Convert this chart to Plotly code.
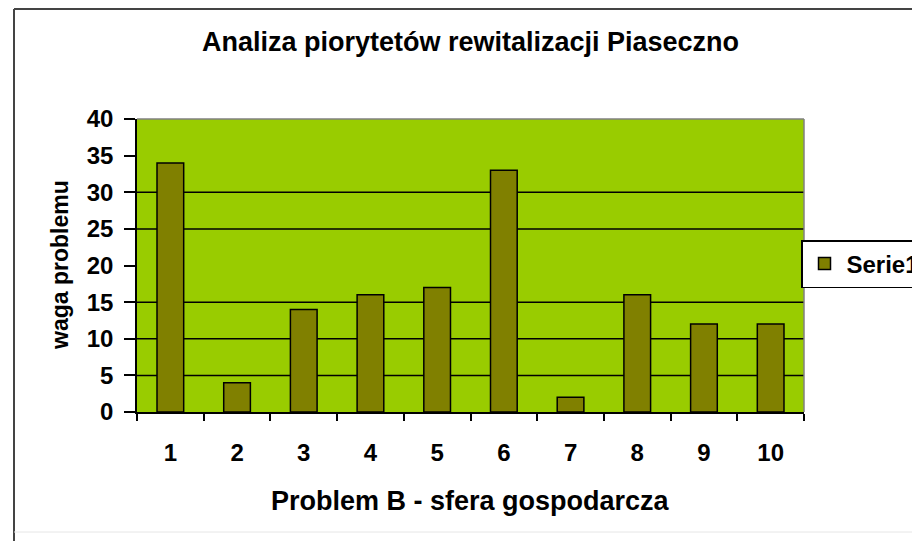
import plotly.graph_objects as go

categories = ["1", "2", "3", "4", "5", "6", "7", "8", "9", "10"]
values = [34, 4, 14, 16, 17, 33, 2, 16, 12, 12]
series_name = "Serie1"
y_ticks = [0, 5, 10, 15, 20, 25, 30, 35, 40]
grid_levels = [5, 10, 15, 25, 30]

title_text = "Analiza piorytetów rewitalizacji Piaseczno"
x_title = "Problem B - sfera gospodarcza"
y_title = "waga problemu"

# page offset of the figure (body margin)
OFF = 8
W, H = 920 - OFF, 541 - OFF
# plot area in page pixels
PL, PR, PT, PB = 137, 804, 119, 412
L, R, T, B = PL - OFF, PR - OFF, PT - OFF, PB - OFF

FONT = "Liberation Sans, Arial, sans-serif"
BOLD = dict(family=FONT, color="black", weight="bold")

fig = go.Figure()
fig.add_trace(go.Bar(
    x=categories, y=values, name=series_name,
    marker=dict(color="#808000", line=dict(color="black", width=1.5)),
    showlegend=True,
))

def px_x(p):  # page px -> paper x
    return (p - PL) / (PR - PL)

def px_y(p):  # page px -> paper y
    return (PB - p) / (PB - PT)

shapes = []
for g in grid_levels:
    shapes.append(dict(type="line", xref="x domain", yref="y", x0=0, x1=1, y0=g, y1=g,
                       line=dict(color="black", width=1.5), layer="below"))
# plot area border (top/right gray)
shapes.append(dict(type="line", xref="x domain", yref="y domain", x0=0, x1=1, y0=1, y1=1,
                   line=dict(color="#808080", width=1.5), layer="above"))
shapes.append(dict(type="line", xref="x domain", yref="y domain", x0=1, x1=1, y0=0, y1=1,
                   line=dict(color="#808080", width=1.5), layer="above"))
# outer chart frame
shapes.append(dict(type="line", xref="paper", yref="paper", x0=px_x(14), x1=px_x(14),
                   y0=px_y(9), y1=px_y(545), line=dict(color="#444444", width=2)))
shapes.append(dict(type="line", xref="paper", yref="paper", x0=px_x(14), x1=px_x(930),
                   y0=px_y(9), y1=px_y(9), line=dict(color="#444444", width=2)))
shapes.append(dict(type="line", xref="paper", yref="paper", x0=px_x(14), x1=px_x(930),
                   y0=px_y(532), y1=px_y(532), line=dict(color="#e6e6e6", width=1)))

annotations = [
    dict(text=x_title, xref="paper", yref="paper", x=0.5, y=px_y(501),
         xanchor="center", yanchor="middle", showarrow=False,
         font=dict(size=27, **BOLD)),
    dict(text=y_title, xref="paper", yref="paper", x=px_x(60), y=px_y(265),
         xanchor="center", yanchor="middle", showarrow=False, textangle=-90,
         font=dict(size=23, **BOLD)),
]

fig.update_layout(
    width=W, height=H,
    margin=dict(l=L, r=W - R, t=T, b=H - B, autoexpand=False),
    paper_bgcolor="white",
    plot_bgcolor="#99CC00",
    title=dict(text=title_text, x=0.5, xref="paper", y=1 - (42 - OFF) / H, yref="container",
               xanchor="center", yanchor="middle", font=dict(size=27, **BOLD)),
    bargap=0.6,
    shapes=shapes,
    annotations=annotations,
    showlegend=True,
    legend=dict(x=px_x(801), y=px_y(264), xanchor="left", yanchor="middle",
                bgcolor="white", bordercolor="black", borderwidth=1.5,
                itemwidth=34,
                font=dict(size=24, **BOLD)),
    xaxis=dict(type="category", tickson="boundaries", ticks="outside", ticklen=7,
               tickcolor="black", tickwidth=1.5, showline=True, linecolor="black",
               linewidth=1.5, showgrid=False, tickfont=dict(size=24, **BOLD),
               ticklabelstandoff=18, fixedrange=True),
    yaxis=dict(range=[0, 40], tickvals=y_ticks, ticks="outside", ticklen=11,
               tickcolor="black", tickwidth=1.5, showline=True, linecolor="black",
               linewidth=1.5, showgrid=False, zeroline=False,
               tickfont=dict(size=24, **BOLD), ticklabelstandoff=6, fixedrange=True),
)

fig.write_html("out.html")
